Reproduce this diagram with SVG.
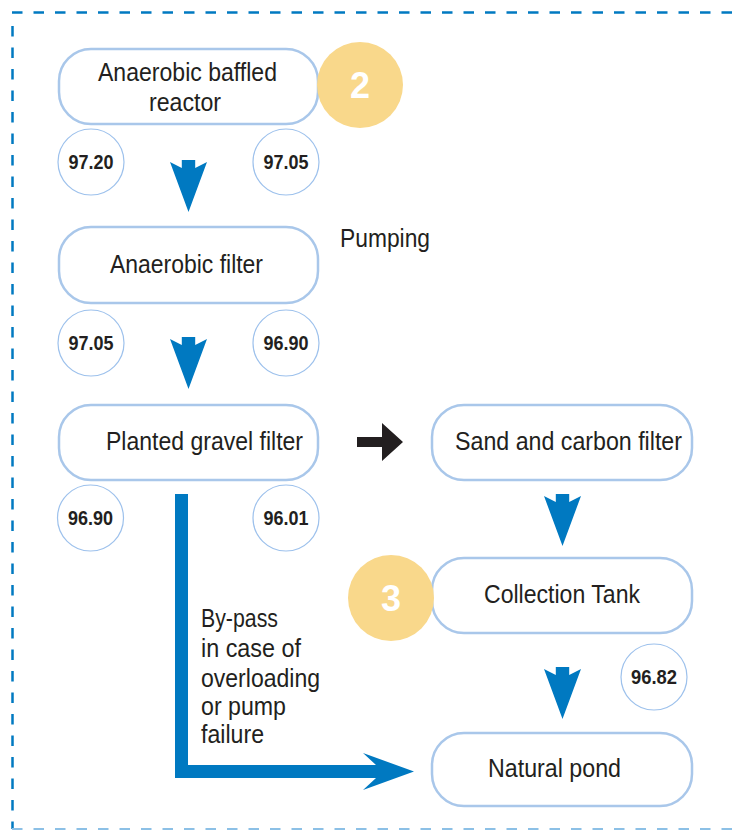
<svg xmlns="http://www.w3.org/2000/svg" width="742" height="830" viewBox="0 0 742 830">
<style>
.box{fill:#fff;stroke:#a9c7ea;stroke-width:2.5}
.num{fill:#fff;stroke:#9dc1ec;stroke-width:1.2}
.badge{fill:#f9d88b}
.lbl{font-family:"Liberation Sans",Arial,sans-serif;font-size:25px;fill:#231f20}
.nt{font-family:"Liberation Sans",Arial,sans-serif;font-size:19.5px;font-weight:bold;fill:#231f20;text-anchor:middle}
.bt{font-family:"Liberation Sans",Arial,sans-serif;font-size:36px;font-weight:bold;fill:#fff;text-anchor:middle}
.mid{text-anchor:middle}
.blue{fill:#0079c1}
.border{fill:none;stroke:#0079c1;stroke-width:2.5;stroke-dasharray:10.5 11}
</style>
<defs>
<polygon id="darr" points="-6.7,0 6.7,0 6.7,8 18.5,2 0,52 -18.5,2 -6.7,8"/>
</defs>
<g id="frame">
<line class="border" x1="12" y1="12.5" x2="742" y2="12.5"/>
<line class="border" x1="12.5" y1="26" x2="12.5" y2="829"/>
<line class="border" x1="12" y1="829" x2="742" y2="829" style="stroke:#8cc0e6;stroke-width:2"/>
</g>
<g id="connectors">
<use href="#darr" class="blue" x="188.5" y="160"/>
<use href="#darr" class="blue" x="188.5" y="337"/>
<use href="#darr" class="blue" x="562.5" y="494"/>
<use href="#darr" class="blue" x="562.5" y="667"/>
<polygon fill="#231f20" points="357,437 382,437 382,423 403,442 382,461 382,447 357,447"/>
<path class="blue" d="M175,494 H188 V765 H376 L363,753 L414,771.5 L363,790 L376,778 H175 Z"/>
</g>
<g id="n-abr">
<rect class="box" x="59" y="49" width="259" height="75" rx="32"/>
<text class="lbl" x="98" y="81" textLength="179" lengthAdjust="spacingAndGlyphs">Anaerobic baffled</text>
<text class="lbl" x="149" y="111" textLength="72" lengthAdjust="spacingAndGlyphs">reactor</text>
</g>
<g id="badge-2">
<circle class="badge" cx="360" cy="85" r="43"/>
<text class="bt" x="360" y="98">2</text>
</g>
<g id="v-97-20"><circle class="num" cx="91" cy="162" r="33"/><text class="nt" x="91" y="169" textLength="45" lengthAdjust="spacingAndGlyphs">97.20</text></g>
<g id="v-97-05a"><circle class="num" cx="286" cy="162" r="33"/><text class="nt" x="286" y="169" textLength="45" lengthAdjust="spacingAndGlyphs">97.05</text></g>
<g id="n-af">
<rect class="box" x="59" y="227" width="259" height="76" rx="32"/>
<text class="lbl" x="110" y="273" textLength="153" lengthAdjust="spacingAndGlyphs">Anaerobic filter</text>
</g>
<g id="pumping"><text class="lbl" x="340" y="247" textLength="90" lengthAdjust="spacingAndGlyphs">Pumping</text></g>
<g id="v-97-05b"><circle class="num" cx="91" cy="343" r="33"/><text class="nt" x="91" y="350" textLength="45" lengthAdjust="spacingAndGlyphs">97.05</text></g>
<g id="v-96-90a"><circle class="num" cx="286" cy="343" r="33"/><text class="nt" x="286" y="350" textLength="45" lengthAdjust="spacingAndGlyphs">96.90</text></g>
<g id="n-pgf">
<rect class="box" x="59" y="405" width="259" height="75" rx="32"/>
<text class="lbl" x="106" y="450" textLength="197" lengthAdjust="spacingAndGlyphs">Planted gravel filter</text>
</g>
<g id="n-scf">
<rect class="box" x="432" y="405" width="260" height="75" rx="32"/>
<text class="lbl" x="455" y="450" textLength="227" lengthAdjust="spacingAndGlyphs">Sand and carbon filter</text>
</g>
<g id="v-96-90b"><circle class="num" cx="90.5" cy="518" r="33"/><text class="nt" x="90.5" y="525" textLength="45" lengthAdjust="spacingAndGlyphs">96.90</text></g>
<g id="v-96-01"><circle class="num" cx="286" cy="518" r="33"/><text class="nt" x="286" y="525" textLength="45" lengthAdjust="spacingAndGlyphs">96.01</text></g>
<g id="n-ct">
<rect class="box" x="432" y="558" width="260" height="75" rx="32"/>
<text class="lbl" x="484" y="603" textLength="156" lengthAdjust="spacingAndGlyphs">Collection Tank</text>
</g>
<g id="badge-3">
<circle class="badge" cx="391" cy="598" r="43"/>
<text class="bt" x="391" y="611">3</text>
</g>
<g id="v-96-82"><circle class="num" cx="654" cy="677" r="33"/><text class="nt" x="654" y="684" textLength="46" lengthAdjust="spacingAndGlyphs">96.82</text></g>
<g id="bypass-label">
<text class="lbl" x="201" y="627" textLength="77" lengthAdjust="spacingAndGlyphs">By-pass</text>
<text class="lbl" x="201" y="657" textLength="100" lengthAdjust="spacingAndGlyphs">in case of</text>
<text class="lbl" x="201" y="687" textLength="119" lengthAdjust="spacingAndGlyphs">overloading</text>
<text class="lbl" x="201" y="715" textLength="85" lengthAdjust="spacingAndGlyphs">or pump</text>
<text class="lbl" x="201" y="743" textLength="63" lengthAdjust="spacingAndGlyphs">failure</text>
</g>
<g id="n-np">
<rect class="box" x="432" y="733" width="260" height="73" rx="32"/>
<text class="lbl" x="488" y="777" textLength="133" lengthAdjust="spacingAndGlyphs">Natural pond</text>
</g>
</svg>
